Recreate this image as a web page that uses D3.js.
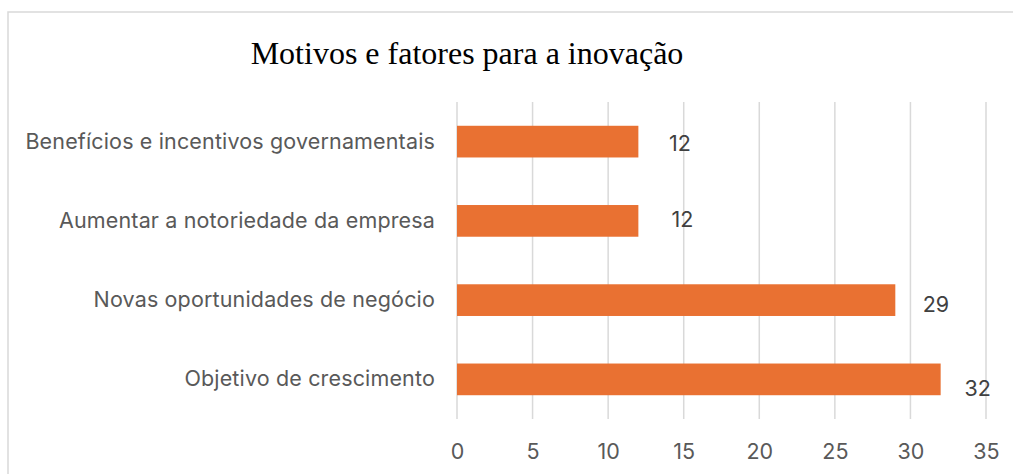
<!DOCTYPE html>
<html>
<head>
<meta charset="utf-8">
<script src="https://cdn.jsdelivr.net/npm/d3@7"></script>
<style>
  body { margin: 0; background: #fff; }
  svg { display: block; }
</style>
</head>
<body>
<svg id="chart" width="1013" height="474"></svg>
<script>
// data
var categories = ['Benefícios e incentivos governamentais', 'Aumentar a notoriedade da empresa',
  'Novas oportunidades de negócio', 'Objetivo de crescimento'];
var values = [12, 12, 29, 32];
var xTicks = [0, 5, 10, 15, 20, 25, 30, 35];
var title = 'Motivos e fatores para a inovação';

// label nudges (the original labels sit a little off)
var labelDx = [41.5, 44, 40.6, 37];
var labelDy = [1.5, -1, 4, 9.5];

var svg = d3.select('#chart');
var plotLeft = 457, plotRight = 986, plotTop = 102, plotBottom = 419;

// frame
svg.append('path')
  .attr('d', 'M8,474 L8,12 L1013,12')
  .attr('fill', 'none')
  .attr('stroke', '#d9d9d9')
  .attr('stroke-width', 1.5);

svg.append('text')
  .attr('x', 467).attr('y', 64)
  .attr('text-anchor', 'middle')
  .attr('font-family', 'Liberation Serif, Times New Roman, serif')
  .attr('font-size', 32)
  .attr('fill', '#000')
  .text(title);

var x = d3.scaleLinear().domain([0, 35]).range([plotLeft, plotRight]);
var y = d3.scaleBand().domain(categories).range([plotTop, plotBottom]).paddingInner(0.6).paddingOuter(0.3);

// gridlines
svg.append('g')
  .selectAll('line')
  .data(xTicks)
  .join('line')
  .attr('x1', function(d){ return x(d); })
  .attr('x2', function(d){ return x(d); })
  .attr('y1', plotTop).attr('y2', plotBottom)
  .attr('stroke', '#d9d9d9')
  .attr('stroke-width', 1.5);

// bars
svg.append('g')
  .selectAll('rect')
  .data(values)
  .join('rect')
  .attr('x', x(0))
  .attr('y', function(d, i){ return y(categories[i]); })
  .attr('width', function(d){ return x(d) - x(0); })
  .attr('height', y.bandwidth())
  .attr('fill', '#e97132');

var font = 'Aptos, Inter, "Open Sans", sans-serif';
var fs = 21.5;

// value labels
svg.append('g')
  .selectAll('text')
  .data(values)
  .join('text')
  .attr('x', function(d, i){ return x(d) + labelDx[i]; })
  .attr('y', function(d, i){ return y(categories[i]) + y.bandwidth() / 2 + labelDy[i]; })
  .attr('dy', '0.35em')
  .attr('font-family', font)
  .attr('font-size', fs)
  .attr('fill', '#404040')
  .attr('text-anchor', 'middle')
  .text(function(d){ return d; });

// category axis
var yAxis = svg.append('g')
  .attr('transform', 'translate(' + (plotLeft - 22) + ',0)')
  .call(d3.axisLeft(y).tickSize(0).tickPadding(0));
yAxis.select('.domain').remove();
yAxis.selectAll('text')
  .attr('font-family', font)
  .attr('font-size', fs)
  .attr('letter-spacing', 0.15)
  .attr('fill', '#595959');

// value axis
var xAxis = svg.append('g')
  .attr('transform', 'translate(0,' + (plotBottom + 24.5) + ')')
  .call(d3.axisBottom(x).tickValues(xTicks).tickSize(0).tickPadding(0));
xAxis.select('.domain').remove();
xAxis.selectAll('text')
  .attr('font-family', font)
  .attr('font-size', fs)
  .attr('fill', '#595959');
</script>
</body>
</html>
